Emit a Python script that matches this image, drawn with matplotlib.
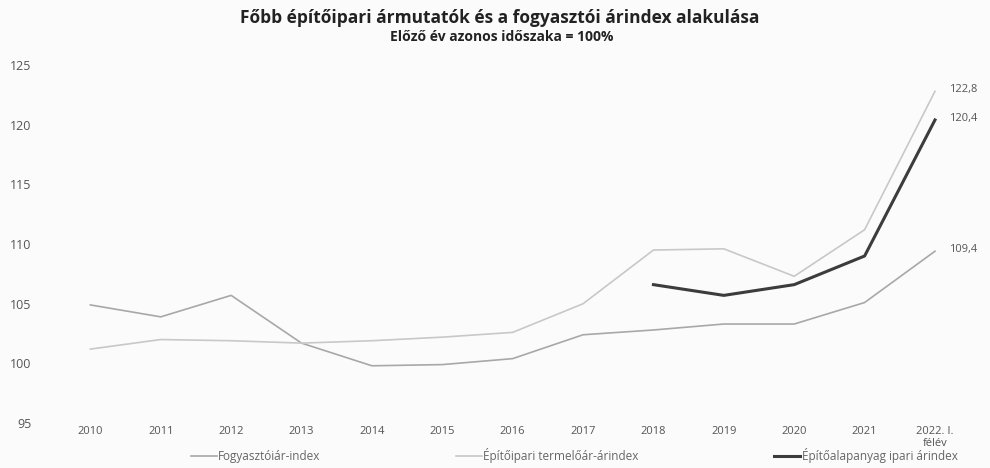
import matplotlib
matplotlib.use("Agg")
import matplotlib.pyplot as plt

plt.rcParams["font.family"] = ["Open Sans", "DejaVu Sans"]

YEARS = ["2010", "2011", "2012", "2013", "2014", "2015", "2016",
         "2017", "2018", "2019", "2020", "2021", "2022. I.\nfélév"]

fogyasztoi = [104.9, 103.9, 105.7, 101.7, 99.8, 99.9, 100.4,
              102.4, 102.8, 103.3, 103.3, 105.1, 109.4]
epitoipari = [101.2, 102.0, 101.9, 101.7, 101.9, 102.2, 102.6,
              105.0, 109.5, 109.6, 107.3, 111.2, 122.8]
anyag_idx = [8, 9, 10, 11, 12]
anyag = [106.6, 105.7, 106.6, 109.0, 120.4]

x = list(range(len(YEARS)))

fig = plt.figure(figsize=(9.9, 4.68), dpi=100)
fig.patch.set_facecolor("#fbfbfb")
ax = fig.add_axes([0.06, 0.096, 0.915, 0.765])
ax.set_facecolor("#fbfbfb")

ax.plot(x, fogyasztoi, color="#a8a8a8", linewidth=1.2, label="Fogyasztóiár-index")
ax.plot(x, epitoipari, color="#c8c8c8", linewidth=1.2, label="Építőipari termelőár-árindex")
ax.plot(anyag_idx, anyag, color="#3c3c3c", linewidth=2.2, label="Építőalapanyag ipari árindex")

for series in (epitoipari, anyag, fogyasztoi):
    ax.annotate(f"{series[-1]:.1f}".replace(".", ","), (x[-1], series[-1]),
                xytext=(10, 1), textcoords="offset points",
                fontsize=8, color="#555555", va="center")

ax.set_xlim(-0.44, 12.43)
ax.set_ylim(95, 125)
ax.set_yticks(range(95, 126, 5))
ax.set_xticks(x)
ax.set_xticklabels(YEARS, fontsize=8, color="#555555", linespacing=1.1)
ax.tick_params(axis="y", labelsize=9, colors="#555555", length=0, pad=20)
ax.tick_params(axis="x", length=0, pad=2)
for s in ax.spines.values():
    s.set_visible(False)

fig.text(0.505, 0.962, "Főbb építőipari ármutatók és a fogyasztói árindex alakulása",
         ha="center", va="center", fontsize=12.5, fontweight="bold", color="#222222")
fig.text(0.507, 0.92, "Előző év azonos időszaka = 100%",
         ha="center", va="center", fontsize=10, fontweight="bold", color="#222222")

fig.legend(loc="lower center", bbox_to_anchor=(0.58, -0.012), ncol=3, frameon=False,
           fontsize=8.5, labelcolor="#666666", handlelength=2.2, handletextpad=0.1,
           columnspacing=11.5)

fig.savefig("out.png", dpi=100, facecolor=fig.get_facecolor())
